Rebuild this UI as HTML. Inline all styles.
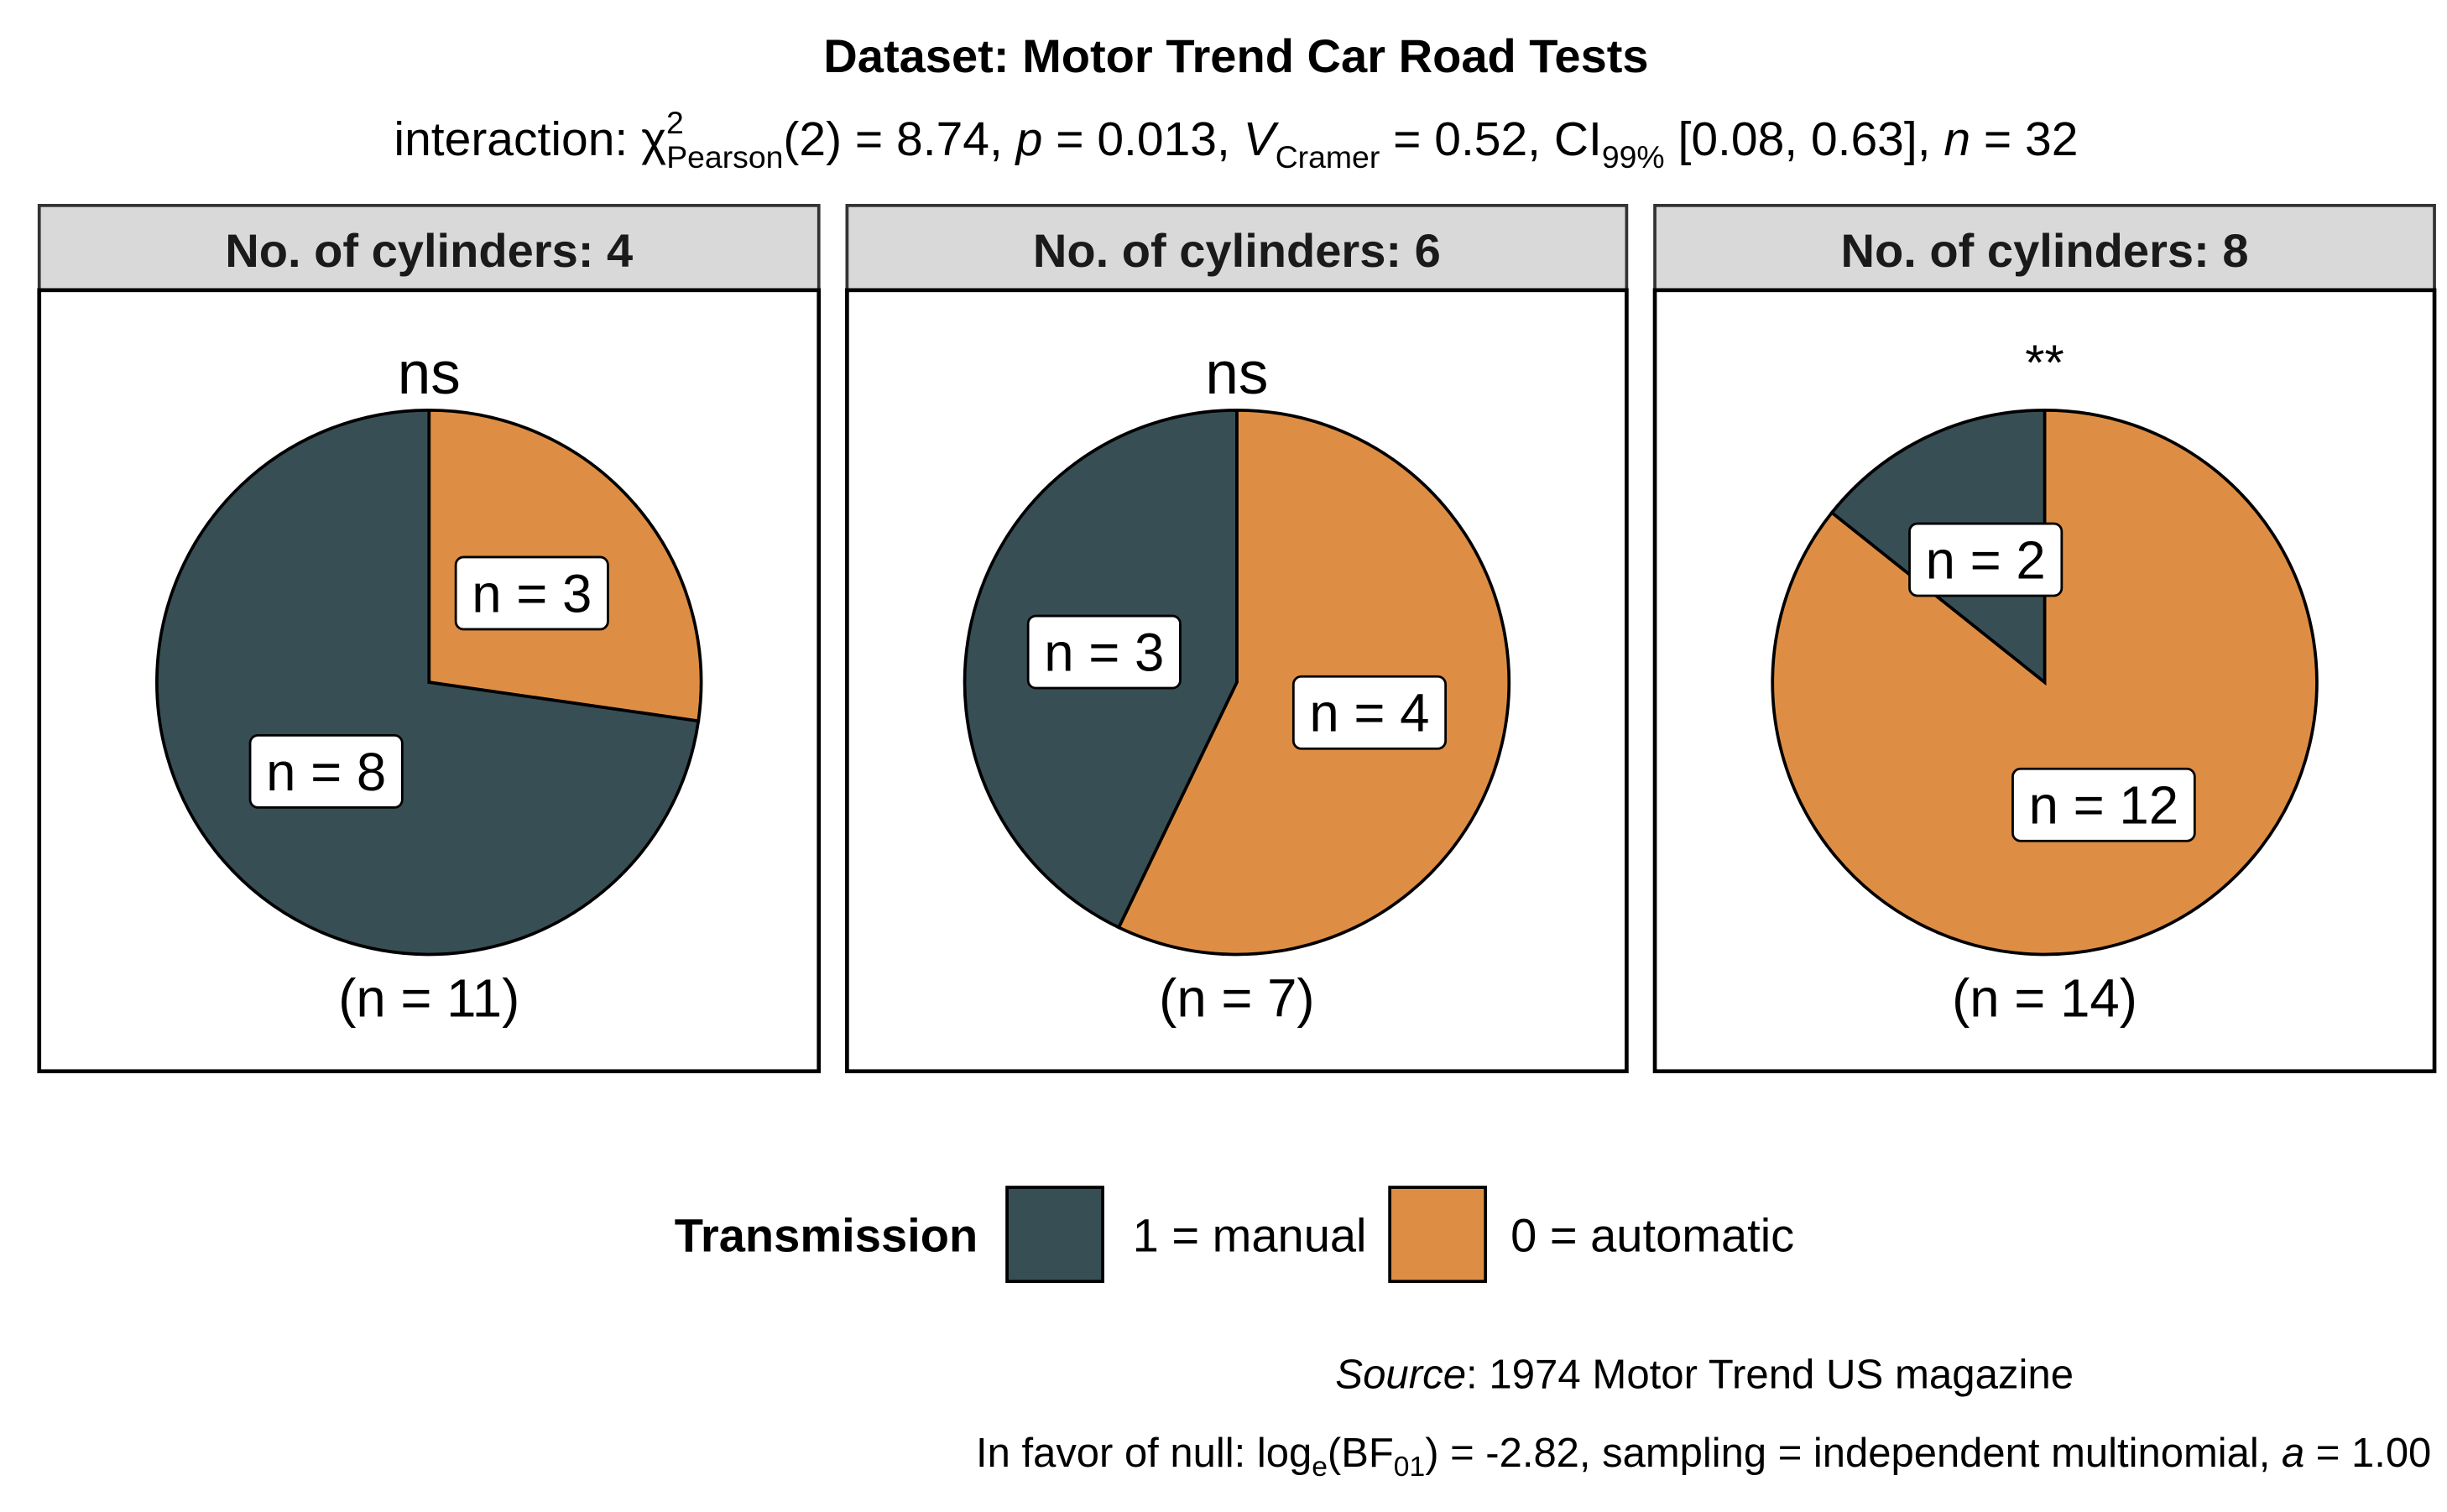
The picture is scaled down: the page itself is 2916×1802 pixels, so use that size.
<!DOCTYPE html>
<html><head><meta charset="utf-8"><style>
html,body{margin:0;padding:0;background:#fff;}
svg{display:block;font-family:"Liberation Sans",Arial,sans-serif;}
</style></head><body>
<svg id="chart" width="2916" height="1802" viewBox="0 0 1560 964" preserveAspectRatio="none" xmlns="http://www.w3.org/2000/svg">
<rect width="1560" height="964" fill="#fff"/>
<text x="788" y="46" text-anchor="middle" font-size="30" font-weight="bold">Dataset: Motor Trend Car Road Tests</text>
<text x="788" y="99" text-anchor="middle" font-size="30.5">interaction: χ<tspan dy="-14" font-size="20">2</tspan><tspan dx="-11" dy="22" font-size="20">Pearson</tspan><tspan dy="-8">(2) = 8.74, </tspan><tspan font-style="italic">p</tspan> = 0.013, <tspan font-style="italic">V</tspan><tspan dy="8" font-size="20">Cramer</tspan><tspan dy="-8"> = 0.52, CI</tspan><tspan dy="8" font-size="20">99%</tspan><tspan dy="-8"> [0.08, 0.63], </tspan><tspan font-style="italic">n</tspan> = 32</text>
<g id="panels"></g>
<g>
<text x="430" y="798" font-size="30" font-weight="bold">Transmission</text>
<rect x="642" y="757" width="61" height="60" fill="#384e55" stroke="#000" stroke-width="2"/>
<text x="722" y="798" font-size="30">1 = manual</text>
<rect x="886" y="757" width="61" height="60" fill="#de8e44" stroke="#000" stroke-width="2"/>
<text x="963" y="798" font-size="30">0 = automatic</text>
</g>
<text x="1322" y="885" text-anchor="end" font-size="26.3"><tspan font-style="italic">Source</tspan>: 1974 Motor Trend US magazine</text>
<text x="1550" y="935" text-anchor="end" font-size="26.2">In favor of null: log<tspan dy="6" font-size="18">e</tspan><tspan dy="-6">(BF</tspan><tspan dy="6" font-size="18">01</tspan><tspan dy="-6">) = -2.82, sampling = independent multinomial, </tspan><tspan font-style="italic">a</tspan> = 1.00</text>
</svg>
<script>
const categories = ["4", "6", "8"];
const manualCounts = [8, 3, 2];
const automaticCounts = [3, 4, 12];
const sigLabels = ["ns", "ns", "**"];
const NS = "http://www.w3.org/2000/svg";
const g = document.getElementById("panels");
const colors = { automatic: "#de8e44", manual: "#384e55" };
function mk(tag, attrs, parent) {
  const e = document.createElementNS(NS, tag);
  for (const k in attrs) e.setAttribute(k, attrs[k]);
  parent.appendChild(e);
  return e;
}
const panelX = i => 25 + i * 515;
const W = 497, R = 173.5;
function pt(cx, cy, r, frac) {
  const a = frac * 2 * Math.PI;
  return [cx + r * Math.sin(a), cy - r * Math.cos(a)];
}
categories.forEach((cat, i) => {
  const x0 = panelX(i), cx = x0 + W / 2, cy = 435;
  const strip = mk("rect", { x: x0, y: 131, width: W, height: 54, fill: "#d9d9d9", stroke: "#333", "stroke-width": 2 }, g);
  
  
  const st = mk("text", { x: cx, y: 170, "text-anchor": "middle", "font-size": 30, "font-weight": "bold", fill: "#1a1a1a" }, g);
  st.textContent = "No. of cylinders: " + cat;
  
  
  const pb = mk("rect", { x: x0, y: 185, width: W, height: 498, fill: "#fff", stroke: "#000", "stroke-width": 2.5 }, g);
  
  
  const total = manualCounts[i] + automaticCounts[i];
  const slices = [
    { key: "automatic", v: automaticCounts[i] },
    { key: "manual", v: manualCounts[i] }
  ];
  let start = 0;
  const labels = [];
  slices.forEach(s => {
    const f = s.v / total, end = start + f;
    const [x1, y1] = pt(cx, cy, R, start), [x2, y2] = pt(cx, cy, R, end);
    const large = f > 0.5 ? 1 : 0;
    const p = mk("path", { d: `M${cx},${cy} L${x1},${y1} A${R},${R} 0 ${large} 1 ${x2},${y2} Z`, fill: colors[s.key], stroke: "#000", "stroke-width": 2 }, g);
    
    
    labels.push({ pos: pt(cx, cy, R / 2, start + f / 2), txt: "n = " + s.v });
    start = end;
  });
  labels.forEach(l => {
    const w = l.txt.length > 5 ? 116 : 97;
    const b = mk("rect", { x: l.pos[0] - w / 2, y: l.pos[1] - 23, width: w, height: 46, rx: 5, fill: "#fff", stroke: "#000", "stroke-width": 1.5 }, g);
    
    
    const t = mk("text", { x: l.pos[0], y: l.pos[1] + 12, "text-anchor": "middle", "font-size": 34 }, g);
    t.textContent = l.txt;
    
    
  });
  const sg = mk("text", { x: cx, y: sigLabels[i] === "**" ? 242 : 251, "text-anchor": "middle", "font-size": sigLabels[i] === "**" ? 32 : 38 }, g);
  sg.textContent = sigLabels[i];
  
  
  const nt = mk("text", { x: cx, y: 648, "text-anchor": "middle", "font-size": 34 }, g);
  nt.textContent = "(n = " + total + ")";
  
  
});
</script>
</body></html>
